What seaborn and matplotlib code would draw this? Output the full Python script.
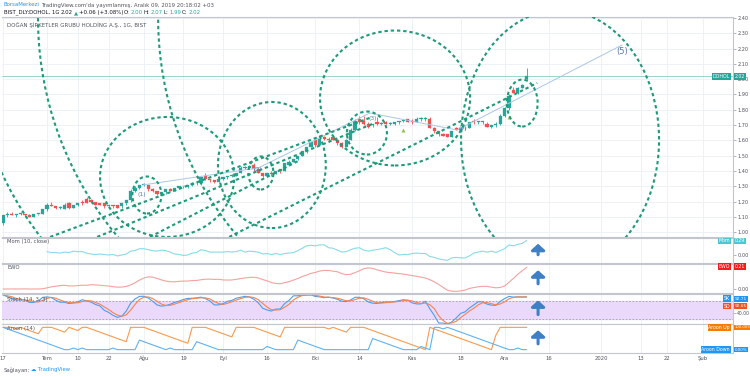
import numpy as np
import pandas as pd
import matplotlib
matplotlib.use('Agg')
import matplotlib.pyplot as plt
import seaborn as sns
from matplotlib.patches import Ellipse, Arc

sns.set_theme(style='white')
plt.rcParams['font.family'] = ['DejaVu Sans']

# daily bars, index 0 = 17 Jun 2019, last = 9 Dec 2019
opens = [1.06, 1.11, 1.12, 1.11, 1.12, 1.12, 1.11, 1.10, 1.12, 1.12,
         1.15, 1.18, 1.17, 1.16, 1.15, 1.19, 1.16, 1.18, 1.20, 1.22,
         1.21, 1.20, 1.19, 1.19, 1.17, 1.18, 1.18, 1.17, 1.19, 1.21,
         1.27, 1.29, 1.31, 1.31, 1.28, 1.27, 1.25, 1.26, 1.28, 1.27,
         1.29, 1.30, 1.30, 1.31, 1.32, 1.32, 1.37, 1.35, 1.34, 1.33,
         1.35, 1.36, 1.37, 1.37, 1.39, 1.42, 1.42, 1.44, 1.41, 1.39,
         1.37, 1.39, 1.38, 1.41, 1.40, 1.44, 1.46, 1.48, 1.50, 1.53,
         1.56, 1.60, 1.57, 1.62, 1.61, 1.62, 1.60, 1.58, 1.56, 1.60,
         1.67, 1.74, 1.73, 1.71, 1.70, 1.72, 1.71, 1.72, 1.71, 1.71,
         1.72, 1.73, 1.74, 1.73, 1.72, 1.74, 1.74, 1.74, 1.68, 1.66,
         1.64, 1.64, 1.62, 1.68, 1.67, 1.68, 1.68, 1.73, 1.72, 1.72,
         1.71, 1.69, 1.70, 1.71, 1.76, 1.81, 1.93, 1.91, 1.94, 2.00]
highs = [1.11, 1.13, 1.13, 1.12, 1.13, 1.12, 1.12, 1.12, 1.12, 1.15,
         1.19, 1.20, 1.17, 1.17, 1.19, 1.20, 1.18, 1.19, 1.21, 1.23,
         1.22, 1.20, 1.19, 1.19, 1.18, 1.18, 1.18, 1.19, 1.21, 1.28,
         1.30, 1.31, 1.32, 1.31, 1.29, 1.27, 1.26, 1.28, 1.29, 1.29,
         1.30, 1.30, 1.31, 1.33, 1.33, 1.36, 1.39, 1.35, 1.34, 1.35,
         1.36, 1.37, 1.38, 1.39, 1.43, 1.43, 1.44, 1.45, 1.42, 1.39,
         1.39, 1.40, 1.40, 1.41, 1.45, 1.47, 1.48, 1.50, 1.53, 1.56,
         1.59, 1.61, 1.62, 1.63, 1.62, 1.63, 1.60, 1.59, 1.61, 1.68,
         1.74, 1.76, 1.76, 1.72, 1.71, 1.75, 1.72, 1.73, 1.72, 1.72,
         1.73, 1.74, 1.74, 1.74, 1.75, 1.75, 1.75, 1.75, 1.69, 1.66,
         1.65, 1.64, 1.66, 1.69, 1.69, 1.69, 1.72, 1.74, 1.73, 1.73,
         1.72, 1.70, 1.72, 1.77, 1.82, 1.90, 1.95, 1.95, 1.97, 2.07]
lows = [1.05, 1.10, 1.11, 1.10, 1.11, 1.10, 1.10, 1.10, 1.11, 1.12,
        1.14, 1.17, 1.15, 1.15, 1.15, 1.15, 1.16, 1.17, 1.18, 1.19,
        1.19, 1.18, 1.18, 1.16, 1.17, 1.16, 1.16, 1.16, 1.18, 1.20,
        1.26, 1.28, 1.30, 1.27, 1.26, 1.24, 1.24, 1.25, 1.27, 1.27,
        1.28, 1.29, 1.29, 1.30, 1.31, 1.31, 1.34, 1.33, 1.32, 1.33,
        1.34, 1.35, 1.36, 1.37, 1.39, 1.41, 1.42, 1.40, 1.39, 1.36,
        1.37, 1.37, 1.38, 1.39, 1.40, 1.44, 1.46, 1.47, 1.50, 1.52,
        1.56, 1.56, 1.57, 1.60, 1.59, 1.60, 1.57, 1.55, 1.56, 1.60,
        1.66, 1.71, 1.70, 1.68, 1.69, 1.70, 1.70, 1.71, 1.70, 1.70,
        1.71, 1.72, 1.72, 1.71, 1.72, 1.73, 1.73, 1.68, 1.65, 1.63,
        1.63, 1.62, 1.62, 1.67, 1.66, 1.67, 1.68, 1.71, 1.71, 1.71,
        1.69, 1.68, 1.69, 1.70, 1.75, 1.80, 1.91, 1.90, 1.94, 1.99]
closes = [1.11, 1.12, 1.11, 1.12, 1.12, 1.11, 1.10, 1.12, 1.12, 1.15,
          1.18, 1.17, 1.16, 1.16, 1.18, 1.16, 1.18, 1.19, 1.19, 1.19,
          1.20, 1.18, 1.18, 1.17, 1.18, 1.17, 1.16, 1.19, 1.21, 1.27,
          1.29, 1.31, 1.31, 1.28, 1.27, 1.25, 1.26, 1.28, 1.27, 1.29,
          1.30, 1.30, 1.31, 1.32, 1.32, 1.36, 1.35, 1.34, 1.33, 1.35,
          1.36, 1.37, 1.37, 1.39, 1.42, 1.42, 1.43, 1.41, 1.39, 1.37,
          1.39, 1.38, 1.40, 1.40, 1.45, 1.46, 1.48, 1.50, 1.53, 1.56,
          1.59, 1.57, 1.61, 1.61, 1.60, 1.60, 1.58, 1.56, 1.60, 1.67,
          1.73, 1.72, 1.71, 1.69, 1.70, 1.71, 1.71, 1.71, 1.71, 1.72,
          1.73, 1.73, 1.72, 1.72, 1.74, 1.74, 1.74, 1.68, 1.66, 1.64,
          1.63, 1.62, 1.66, 1.67, 1.68, 1.68, 1.72, 1.72, 1.72, 1.72,
          1.69, 1.70, 1.71, 1.76, 1.81, 1.89, 1.91, 1.94, 1.96, 2.02]

tick_pos = [0, 10, 17, 24, 32, 41, 50, 60, 71, 81, 93, 104, 114, 124, 136, 145, 151, 159]
tick_lab = ['17', 'Tem', '10', '22', 'Ağu', '19', 'Eyl', '16', 'Eki', '14', 'Kas', '18',
            'Ara', '16', '2020', '13', '22', 'Şub']
price_ticks = [1.0, 1.1, 1.2, 1.3, 1.4, 1.5, 1.6, 1.7, 1.8, 1.9, 2.0, 2.1, 2.2, 2.3, 2.4]

# last values as printed on the right-hand badges
mom_last, ewo_last = 0.29, 0.21
sk_last, sd_last = 92.71, 92.65
aroon_up_last, aroon_dn_last = 100.0, 0.0

# drawings (bar index, price)
circle_x = [32.7, 37.3, 58.6, 61.1, 82.7, 89.1, 126.6, 118.0]
circle_y = [1.243, 1.361, 1.387, 1.439, 1.648, 1.877, 1.603, 1.844]
circle_w = [6.6, 30.5, 5.7, 24.5, 9.1, 34.1, 45.0, 7.0]
circle_h = [0.242, 0.784, 0.216, 0.824, 0.281, 0.882, 1.70, 0.307]
arc_x = [85.2, 69.8, 112.5]
arc_y = [2.40, 2.322, 2.40]
arc_w = [154.5, 154.5, 154.5]
arc_h = [4.444, 4.444, 4.444]
arc_from = [160, 190, 155]
arc_to = [230, 235, 230]
trend_x0 = [10.7, 21.4, 33.4, 51.4]
trend_y0 = [0.969, 0.969, 0.969, 0.969]
trend_x1 = [83.9, 83.9, 67.5, 121.4]
trend_y1 = [1.753, 1.707, 1.472, 1.975]
wave_x = [31.8, 58.0, 83.4, 103.2, 140.7]
wave_y = [1.309, 1.420, 1.779, 1.668, 2.224]
wave_lab = ['(1)', '(2)', '(3)', '(4)', '(5)']
wave_lx = [31.5, 58.0, 84.0, 104.5, 140.7]
wave_ly = [1.245, 1.41, 1.745, 1.68, 2.178]
tri_x = [91, 115]
tri_y = [1.668, 1.753]
arrow_x = 121.6

GREEN = '#26a69a'
RED = '#ef5350'
DRAW = '#1d9b79'
GRID = '#eef1f6'
TXT = '#50535e'
DARK = '#131722'

df = pd.DataFrame({'o': opens, 'h': highs, 'l': lows, 'c': closes})
df['i'] = np.arange(len(df))
c = df['c']
mom = c - c.shift(10)
ewo = c.rolling(5, min_periods=1).mean() - c.rolling(35, min_periods=1).mean()
ll = df['l'].rolling(14, min_periods=1).min()
hh = df['h'].rolling(14, min_periods=1).max()
k_raw = 100 * (c - ll) / (hh - ll)
stoch_k = k_raw.rolling(3, min_periods=1).mean()
stoch_d = stoch_k.rolling(3, min_periods=1).mean()
# bars since the highest high / lowest low in the last 15 bars
n_up = df['h'].rolling(15, min_periods=1).apply(lambda s: np.argmax(s[::-1]), raw=True)
n_dn = df['l'].rolling(15, min_periods=1).apply(lambda s: len(s) - 1 - np.argmin(s), raw=True)
aroon_up = 100 * (14 - n_up) / 14
aroon_dn = 100 * (14 - n_dn) / 14

fig = plt.figure(figsize=(7.5, 3.77), dpi=100)
W, H = 750.0, 377.0
left, width = 2 / W, 731 / W


def panel(top, bottom):
    return fig.add_axes([left, 1 - bottom / H, width, (bottom - top) / H])


ax = panel(17, 237)
ax_mom = panel(238, 263)
ax_ewo = panel(264, 293)
ax_st = panel(294, 324)
ax_ar = panel(324, 353)
axes = [ax, ax_mom, ax_ewo, ax_st, ax_ar]

xlim = (-0.23, 165.9)
for a in axes:
    a.set_xlim(*xlim)
    a.set_facecolor('white')
    for x in tick_pos:
        a.axvline(x, color=GRID, lw=0.7, zorder=0)
    a.yaxis.tick_right()
    a.tick_params(axis='both', length=2, width=0.5, colors='#9598a1', labelsize=3.6,
                  labelcolor=TXT, pad=1.2)
    a.set_xticks([])
    for s in a.spines.values():
        s.set_color('#c3c6ce')
        s.set_linewidth(0.8)
    a.spines['left'].set_visible(False)
    a.grid(False)

# candles
up = df['c'] >= df['o']
cols = np.where(up, GREEN, RED)
ax.vlines(df['i'], df['l'], df['h'], colors=cols, lw=0.6, zorder=3)
body_lo = np.minimum(df['o'], df['c'])
body_h = np.maximum(np.abs(df['c'] - df['o']), 0.004)
ax.bar(df['i'], body_h, bottom=body_lo, width=0.7, color=cols, edgecolor=cols, lw=0.2, zorder=4)

ax.set_ylim(0.9686, 2.4065)
ax.set_yticks(price_ticks)
ax.set_yticklabels([f'{p:.2f}' for p in price_ticks])
for p in price_ticks:
    ax.axhline(p, color=GRID, lw=0.7, zorder=0)
ax.axhline(closes[-1], color=GREEN, lw=0.6, alpha=0.55, zorder=2)

# elliott wave line
ax.plot(wave_x, wave_y, color='#a9c6e8', lw=0.7, zorder=5)
for lx, ly, t in zip(wave_lx, wave_ly, wave_lab):
    ax.text(lx, ly, t, color='#5a77a8', fontsize=4.3 if t != '(5)' else 6, ha='center',
            va='center', zorder=6)

# circles and arcs
for cx, cy, w, h in zip(circle_x, circle_y, circle_w, circle_h):
    ax.add_patch(Ellipse((cx, cy), w, h, fill=False, ec=DRAW, lw=1.5,
                         ls=(0, (1.6, 1.4)), zorder=7, clip_on=True))
for cx, cy, w, h, t0, t1 in zip(arc_x, arc_y, arc_w, arc_h, arc_from, arc_to):
    s0 = np.degrees(np.arctan2(h / w * np.sin(np.radians(t0)), np.cos(np.radians(t0))))
    s1 = np.degrees(np.arctan2(h / w * np.sin(np.radians(t1)), np.cos(np.radians(t1))))
    ax.add_patch(Arc((cx, cy), w, h, theta1=s0 % 360, theta2=s1 % 360, ec=DRAW, lw=1.5,
                     ls=(0, (1.6, 1.4)), zorder=7))
for x0, y0, x1, y1 in zip(trend_x0, trend_y0, trend_x1, trend_y1):
    ax.plot([x0, x1], [y0, y1], color=DRAW, lw=1.5, ls=(0, (1.6, 1.4)), zorder=7)

ax.scatter(tri_x, tri_y, marker='^', s=8, color='#8bc34a', zorder=6, lw=0)

ax.text(5 / 731, 0.962, 'DOĞAN ŞİRKETLER GRUBU HOLDİNG A.Ş., 1G, BIST', transform=ax.transAxes,
        fontsize=4, color=TXT, va='center')


def badge(a, y, name, value, color, vsize=3.3):
    a.annotate(name, xy=(0.996, y), xycoords=('axes fraction', 'data'), ha='right', va='center',
               fontsize=3.4, color='white', zorder=10,
               bbox=dict(boxstyle='square,pad=0.2', fc=color, ec='none'))
    a.annotate(value, xy=(1.002, y), xycoords=('axes fraction', 'data'), ha='left', va='center',
               fontsize=vsize, color='white', zorder=10, annotation_clip=False,
               bbox=dict(boxstyle='square,pad=0.2', fc=color, ec='none'))


badge(ax, closes[-1], 'DOHOL', f'{closes[-1]:.2f}', GREEN)

# Mom
sns.lineplot(x=df['i'], y=mom, ax=ax_mom, color='#86dce8', lw=0.8)
ax_mom.set_ylim(-0.166, 0.352)
ax_mom.set_yticks([0.0])
ax_mom.set_yticklabels(['0.00'])
badge(ax_mom, mom_last, 'Mom', f'{mom_last:.2f}', '#4fc6d6')
ax_mom.text(5 / 731, 0.82, 'Mom (10, close)', transform=ax_mom.transAxes, fontsize=3.8, color=TXT)

# EWO
sns.lineplot(x=df['i'], y=ewo, ax=ax_ewo, color='#f48a86', lw=0.8, alpha=0.8)
ax_ewo.set_ylim(-0.038, 0.236)
ax_ewo.set_yticks([0.0])
ax_ewo.set_yticklabels(['0.00'])
badge(ax_ewo, ewo_last, 'EWO', f'{ewo_last:.2f}', '#f21e1e')
ax_ewo.text(5 / 731, 0.84, 'EWO', transform=ax_ewo.transAxes, fontsize=3.8, color=TXT)

# Stoch
ax_st.axhspan(20, 80, color='#ead9fb', zorder=0)
for lvl in (20, 80):
    ax_st.axhline(lvl, color='#a39cab', lw=0.6, ls=(0, (2, 2)), zorder=1)
sns.lineplot(x=df['i'], y=stoch_k, ax=ax_st, color='#4a9ef0', lw=0.8)
sns.lineplot(x=df['i'], y=stoch_d, ax=ax_st, color='#f7834d', lw=0.8)
ax_st.set_ylim(3, 103)
ax_st.set_yticks([40])
ax_st.set_yticklabels(['40.00'])
ax_st.tick_params(axis='y', labelsize=3.3, pad=1.0)
badge(ax_st, 87, 'SK', f'{sk_last:.2f}', '#2196f3', vsize=3.1)
badge(ax_st, 63, 'SD', f'{sd_last:.2f}', '#f4511e', vsize=3.1)
ax_st.text(5 / 731, 0.78, 'Stoch (14, 3, 3)', transform=ax_st.transAxes, fontsize=3.8, color=TXT)

# Aroon
sns.lineplot(x=df['i'], y=aroon_up, ax=ax_ar, color='#fb9a4c', lw=0.8)
sns.lineplot(x=df['i'], y=aroon_dn, ax=ax_ar, color='#62b1f2', lw=0.8)
ax_ar.set_ylim(-15, 115)
ax_ar.set_yticks([])
badge(ax_ar, aroon_up_last, 'Aroon Up', f'{aroon_up_last:.2f}%', '#f57c00', vsize=2.7)
badge(ax_ar, aroon_dn_last, 'Aroon Down', f'{aroon_dn_last:.2f}%', '#2196f3', vsize=2.9)
ax_ar.text(5 / 731, 0.8, 'Aroon (14)', transform=ax_ar.transAxes, fontsize=3.8, color=TXT)

for a in axes[1:]:
    a.set_xlabel('')
    a.set_ylabel('')
    a.annotate('', xy=(arrow_x, 0.88), xytext=(arrow_x, 0.22),
               xycoords=('data', 'axes fraction'),
               arrowprops=dict(arrowstyle='-|>,head_width=0.45,head_length=0.4',
                               color='#3f7fc4', lw=2.2, mutation_scale=9))

ax_ar.set_xticks(tick_pos)
ax_ar.set_xticklabels(tick_lab)
ax_ar.tick_params(axis='x', length=0, labelsize=3.8, labelcolor=TXT, pad=2)

# header and footer, pieces laid out one after another
renderer = fig.canvas.get_renderer()


def chain(x_px, y_px, parts, size=3.9, gap=1.2):
    x = x_px
    for s, col in parts:
        t = fig.text(x / W, 1 - y_px / H, s, fontsize=size, color=col, va='center')
        x += t.get_window_extent(renderer=renderer).width + gap


chain(4, 5, [('BorsaMerkezi', '#2196f3'),
             ("TradingView.com'da yayımlanmış, Aralık 09, 2019 20:18:02 +03", TXT)])
chain(4, 12.5, [('BIST_DLY:DOHOL, 1G', DARK), ('2.02', DARK), ('▲', GREEN),
                ('+0.06 (+3.08%)', DARK), ('O:', DARK), ('2.00', GREEN), ('H:', DARK),
                ('2.07', GREEN), ('L:', DARK), ('1.99', GREEN), ('C:', DARK), ('2.02', GREEN)],
      gap=1.0)
chain(4, 370, [('Sağlayan:', TXT), ('☁ TradingView', '#2196f3')], size=3.8)

fig.savefig('out.png', dpi=100, facecolor='white')
